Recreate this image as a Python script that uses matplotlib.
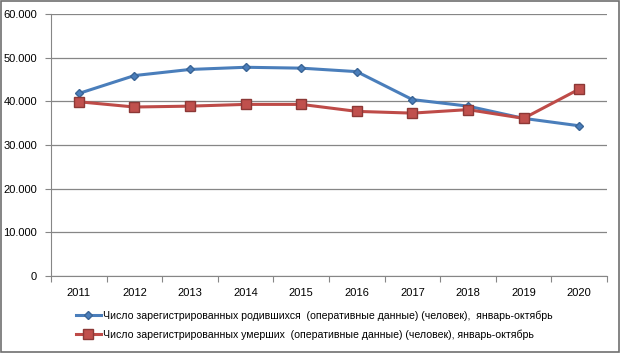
import numpy as np
import matplotlib
matplotlib.use("Agg")
import matplotlib.pyplot as plt
from matplotlib.ticker import FuncFormatter

years = ['2011', '2012', '2013', '2014', '2015', '2016', '2017', '2018', '2019', '2020']
births = [41800, 45900, 47300, 47800, 47600, 46800, 40400, 38900, 36100, 34400]
deaths = [39900, 38700, 38900, 39300, 39300, 37700, 37300, 38100, 36100, 42800]
legend = ['Число зарегистрированных родившихся  (оперативные данные) (человек),  январь-октябрь',
          'Число зарегистрированных умерших  (оперативные данные) (человек), январь-октябрь']

plt.rcParams['font.family'] = ['Liberation Sans', 'DejaVu Sans']
plt.rcParams['font.size'] = 8

fig = plt.figure(figsize=(6.2, 3.53), dpi=100)
ax = fig.add_axes([51/620, 1-276/353, 556/620, 262/353])

x = np.arange(len(years)) + 0.5
ax.plot(x, births, color='#4A7EBB', lw=2.2, marker='D', ms=4.5,
        mfc='#4A7EBB', mec='#3A6596', label=legend[0], zorder=3)
ax.plot(x, deaths, color='#BE4B48', lw=2.2, marker='s', ms=6.5,
        mfc='#C0504D', mec='#8C3836', label=legend[1], zorder=3)

ax.set_xlim(0, len(years))
ax.set_ylim(0, 60000)
ax.set_yticks(np.arange(0, 60001, 10000))
ax.yaxis.set_major_formatter(FuncFormatter(lambda v, p: '0' if v == 0 else '{:,.0f}'.format(v).replace(',', '.')))
ax.set_xticks(np.arange(len(years) + 1))
ax.set_xticklabels([])
ax.set_xticks(x, minor=True)
ax.set_xticklabels(years, minor=True)
ax.tick_params(axis='x', which='minor', length=0, pad=9)
ax.tick_params(axis='x', which='major', length=4, color='#868686', direction='out')
ax.tick_params(axis='y', length=4, color='#868686', direction='out', pad=6)
ax.grid(axis='y', color='#868686', lw=0.9)
ax.set_axisbelow(True)
for s in ['top', 'right']:
    ax.spines[s].set_visible(False)
for s in ['left', 'bottom']:
    ax.spines[s].set_color('#868686')

fig.legend(loc='upper left', bbox_to_anchor=(72/620, 1-306/353), frameon=False, fontsize=7.6,
           handlelength=2.3, handletextpad=0.2, labelspacing=0.85, borderaxespad=0)

fig.patches.append(plt.Rectangle((0.002, 0.003), 0.996, 0.994, transform=fig.transFigure,
                                 fill=False, edgecolor='#6f6f6f', lw=1.2))

fig.savefig('out.png', dpi=100)
